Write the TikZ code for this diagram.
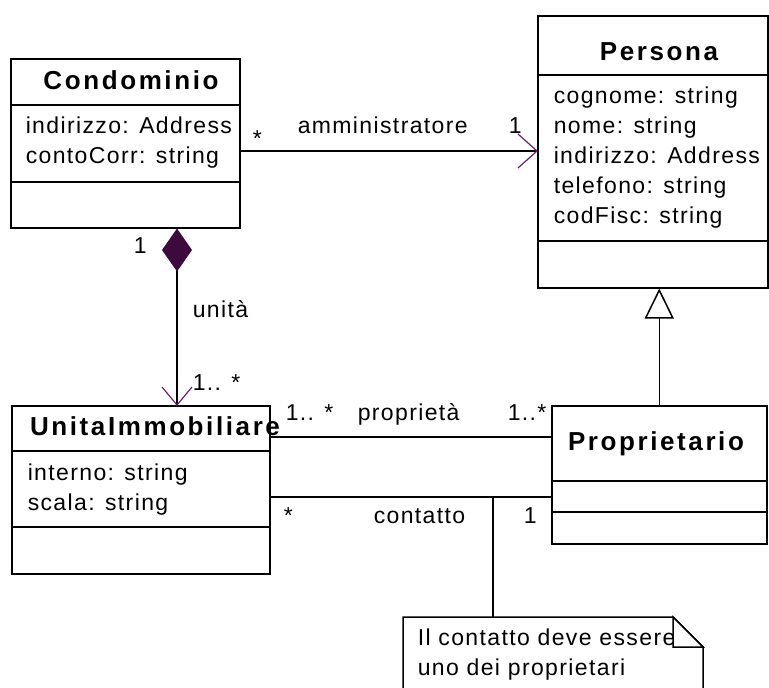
\documentclass[tikz,border=0pt]{standalone}
\usepackage{fontspec}
\usetikzlibrary{arrows.meta}
\newfontfamily\umlfont[LetterSpace=6]{Liberation Sans}
\newfontfamily\umltitlefont[LetterSpace=10]{Liberation Sans}
\definecolor{assoc}{HTML}{6B1F6B}
\definecolor{diam}{HTML}{3D0A3D}

\begin{document}
\begin{tikzpicture}[x=1pt,y=-1pt,line width=1.5pt,
  classbox/.style={draw,rectangle,inner sep=0pt,anchor=north west},
  txt/.style={anchor=base west,inner sep=0pt,font=\umlfont\fontsize{23}{30}\selectfont},
  ttl/.style={anchor=base,inner sep=0pt,font=\umltitlefont\bfseries\fontsize{26}{30}\selectfont},
  mult/.style={txt},
  barb/.style={draw=assoc,line width=1.2pt,line join=miter}]

\useasboundingbox (0,0) rectangle (769,688);
\clip (0,0) rectangle (769,688);
\fill[white] (0,0) rectangle (769,688);

% classes
\node[classbox,minimum width=229pt,minimum height=169pt] (condo) at (10,58) {};
\draw (10,105) -- (239,105);
\draw (10,182) -- (239,182);
\node[ttl] (condoT) at (131,89) {Condominio};
\node[txt] (condoA1) at (25,133) {indirizzo: Address};
\node[txt] (condoA2) at (25,163) {contoCorr: string};

\node[classbox,minimum width=230pt,minimum height=272pt] (persona) at (537,15) {};
\draw (537,75) -- (767,75);
\draw (537,241) -- (767,241);
\node[ttl] (personaT) at (659,60) {Persona};
\node[txt] (personaA1) at (553,103) {cognome: string};
\node[txt] (personaA2) at (553,133) {nome: string};
\node[txt] (personaA3) at (553,163) {indirizzo: Address};
\node[txt] (personaA4) at (553,193) {telefono: string};
\node[txt] (personaA5) at (553,223) {codFisc: string};

\node[classbox,minimum width=258pt,minimum height=168pt] (unita) at (11,405) {};
\draw (11,451) -- (269,451);
\draw (11,527) -- (269,527);
\node[txt] (unitaA1) at (27,480) {interno: string};
\node[txt] (unitaA2) at (27,510) {scala: string};

\node[classbox,minimum width=215pt,minimum height=138pt] (propr) at (551,405) {};
\draw (551,481) -- (766,481);
\draw (551,512) -- (766,512);
\node[ttl] (proprT) at (656,450) {Proprietario};

% helper coordinates for connector routing
\coordinate (xcomp) at (177,0);
\coordinate (xnote) at (493,0);
\coordinate (yadm) at (0,151);
\coordinate (yprop) at (0,437);
\coordinate (ycont) at (0,497);

% amministratore (navigable towards Persona)
\draw (condo.east |- yadm) -- (persona.west |- yadm);
\path[barb] (persona.west |- yadm) ++(-19,-17) -- ++(19,17) -- ++(-19,17);
\node[mult] (admM1) at (252,146) {*};
\node[txt] (admL) at (297,133) {amministratore};
\node[mult] (admM2) at (508,133) {1};

% composition: unita
\draw[{Diamond[length=43pt,width=30pt,color=diam,fill=diam]}-]
  (xcomp |- condo.south) -- (xcomp |- unita.north);
\path[barb] (xcomp |- unita.north) ++(-15,-18) -- ++(15,18) -- ++(15,-18);
\node[mult] (unM1) at (133,253) {1};
\node[txt] (unL) at (192,317) {unità};
\node[mult] (unM2) at (192,390) {1.. *};

% proprieta
\draw (unita.east |- yprop) -- (propr.west |- yprop);
\node[mult] (prM1) at (285,420) {1.. *};
\node[txt] (prL) at (357,420) {proprietà};
\node[mult] (prM2) at (507,420) {1..*};

% contatto
\draw (unita.east |- ycont) -- (propr.west |- ycont);
\node[mult] (ctM1) at (283,523) {*};
\node[txt] (ctL) at (373,523) {contatto};
\node[mult] (ctM2) at (523,523) {1};

% generalization
\draw[-{Triangle[open,length=30pt,width=29pt,fill=white]}] (propr.north) -- (propr.north |- persona.south);

% title drawn late so it overlaps the association line
\node[ttl] (unitaT) at (155,435) {UnitaImmobiliare};

% note
\node[anchor=north west,inner sep=0pt,minimum width=300pt,minimum height=90pt] (note) at (403,617) {};
\draw[fill=white] (403,700) -- (403,617) -- (673,617) -- (703,647) -- (703,700);
\node[txt] (noteL1) at (417,645) {Il contatto deve essere};
\node[txt] (noteL2) at (417,675) {uno dei proprietari};
\draw[fill=white] (673,617) -- (673,647) -- (703,647) -- cycle;
\draw (xnote |- ycont) -- (xnote |- note.north);

\end{tikzpicture}
\end{document}
